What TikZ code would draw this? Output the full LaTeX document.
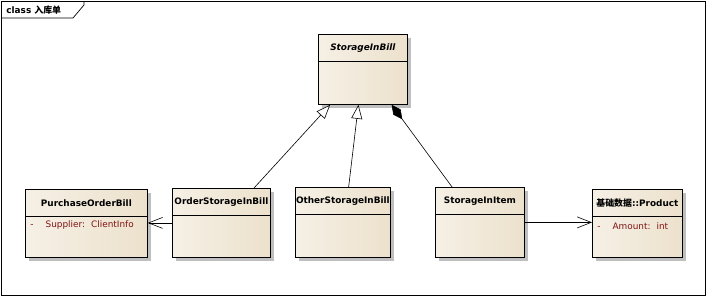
\documentclass[tikz,border=0pt]{standalone}
\usepackage{fontspec}
\setmainfont{DejaVu Sans}
\newfontfamily\cjk{Noto Sans CJK SC}
\usetikzlibrary{arrows.meta, positioning, shadows, calc}

\definecolor{classtan}{RGB}{236,225,204}
\definecolor{attrred}{RGB}{128,20,20}

\begin{document}
\begin{tikzpicture}[
    x=1pt, y=-1pt,
    line width=0.8pt,
    class box/.style={
        draw, rectangle, anchor=north west, inner sep=0pt,
        left color=white!50!classtan, right color=classtan,
        drop shadow={shadow xshift=4pt, shadow yshift=-4pt, fill=black!25, opacity=1}
    },
    class title/.style={font=\bfseries\fontsize{8.9}{10}\selectfont, inner sep=1pt},
    attribute/.style={anchor=west, text=attrred, font=\fontsize{8.9}{10}\selectfont, inner sep=1pt},
    generalize/.style={-{Triangle[length=14pt, width=11pt, fill=white]}, line width=0.6pt},
    composite/.style={{Diamond[length=18pt, width=9pt]}-, line width=0.6pt},
    association/.style={-{Straight Barb[length=14pt, width=11pt]}, line width=0.6pt}
]
\useasboundingbox (0,0) rectangle (707,297);

% Frame with its name tab
\draw[line width=0.7pt] (1.5,1.5) rectangle (705.5,295.5);
\draw[line width=0.7pt] (1.5,18) -- (73,18) -- (84,5) -- (84,1.5);
\node[anchor=west, font=\bfseries\fontsize{8.9}{10}\selectfont, inner sep=0pt]
    (frametitle) at (6,10) {class {\cjk 入库单}};

% Classes
\node[class box, minimum width=89, minimum height=70] (sib) at (318,34) {};
\node[class box, minimum width=122, minimum height=68] (pob) at (25,189) {};
\node[class box, minimum width=98, minimum height=69] (osib) at (172,188) {};
\node[class box, minimum width=95, minimum height=70] (other) at (295,187) {};
\node[class box, minimum width=89, minimum height=70] (sii) at (435,187) {};
\node[class box, minimum width=90, minimum height=68] (prod) at (592,189) {};

% Header compartments
\foreach \c in {sib,pob,osib,other,sii,prod}
    \draw ([yshift=-27pt]\c.north west) -- ([yshift=-27pt]\c.north east);

% Class names
\node[class title] (sib title) at ([yshift=-14pt]sib.north) {\itshape StorageInBill};
\node[class title] (pob title) at ([yshift=-14pt]pob.north) {PurchaseOrderBill};
\node[class title] (osib title) at ([yshift=-14pt]osib.north) {OrderStorageInBill};
\node[class title] (other title) at ([yshift=-14pt]other.north) {OtherStorageInBill};
\node[class title] (sii title) at ([yshift=-14pt]sii.north) {StorageInItem};
\node[class title] (prod title) at ([yshift=-14pt]prod.north) {{\cjk 基础数据}::Product};

% Attributes
\node[attribute] (pob attr) at ([xshift=4pt,yshift=-36pt]pob.north west)
    {-\hspace{12pt}Supplier:\hspace{6pt}ClientInfo};
\node[attribute] (prod attr) at ([xshift=4pt,yshift=-37pt]prod.north west)
    {-\hspace{12pt}Amount:\hspace{6pt}int};

% Inheritance
\draw[generalize] ($(osib.north west)!0.83!(osib.north east)$)
    -- ($(sib.south west)!0.135!(sib.south east)$);
\draw[generalize] ($(other.north west)!0.56!(other.north east)$)
    -- ($(sib.south west)!0.45!(sib.south east)$);

% Composition
\draw[composite] ($(sib.south west)!0.82!(sib.south east)$)
    -- ($(sii.north west)!0.19!(sii.north east)$);

% Associations
\draw[association] (osib.west) -- (pob.east |- osib.west);
\draw[association] (sii.east) -- (prod.west |- sii.east);

\end{tikzpicture}
\end{document}
